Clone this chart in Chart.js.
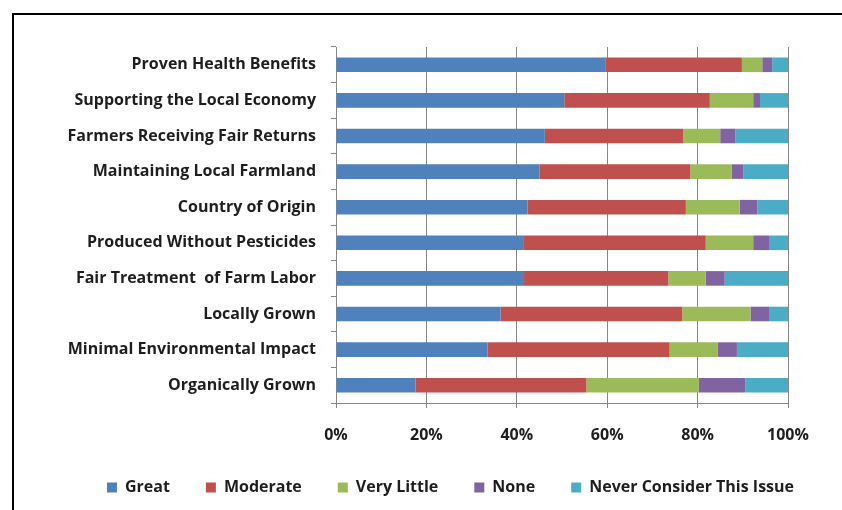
<!DOCTYPE html>
<html>
<head>
<meta charset="utf-8">
<script src="https://cdn.jsdelivr.net/npm/chart.js@4.4.1/dist/chart.umd.min.js"></script>
<style>
    html, body { margin: 0; padding: 0; background: #fff; overflow: hidden; }
    #wrap { position: relative; width: 842px; height: 510px; }
    #frame {
        position: absolute; left: 12px; top: 13px;
        width: 900px; height: 600px;
        border: 2px solid #000;
    }
    #survey-chart { position: absolute; left: 0; top: 0; }
</style>
</head>
<body>
<div id="wrap">
    <div id="frame"></div>
    <canvas id="survey-chart" width="842" height="510"></canvas>
</div>
<script>
const issues = [
    'Proven Health Benefits',
    'Supporting the Local Economy',
    'Farmers Receiving Fair Returns',
    'Maintaining Local Farmland',
    'Country of Origin',
    'Produced Without Pesticides',
    'Fair Treatment  of Farm Labor',
    'Locally Grown',
    'Minimal Environmental Impact',
    'Organically Grown'
];

// percent of respondents, top row first
const great      = [59.7, 50.5, 46.2, 45.0, 42.4, 41.4, 41.6, 36.4, 33.5, 17.6];
const moderate   = [30.1, 32.2, 30.6, 33.4, 35.0, 40.4, 31.9, 40.2, 40.3, 37.8];
const veryLittle = [ 4.5,  9.6,  8.2,  9.1, 11.9, 10.5,  8.3, 15.1, 10.6, 24.9];
const none       = [ 2.2,  1.5,  3.4,  2.6,  3.9,  3.5,  4.2,  4.1,  4.3, 10.3];
const neverConsider = [3.5, 6.2, 11.6, 9.9, 6.8, 4.2, 14.0, 4.2, 11.3, 9.4];

const percentTicks = [0, 20, 40, 60, 80, 100];

document.addEventListener('DOMContentLoaded', function () {
    const gridGray = '#878787';
    const padLeft = 59;

    Chart.defaults.font.family = '"Open Sans", sans-serif';
    Chart.defaults.font.size = 16;
    Chart.defaults.font.weight = 'bold';
    Chart.defaults.color = '#1e1e1e';

    function series(label, data, color) {
        return {
            label: label,
            data: data,
            backgroundColor: color,
            borderWidth: 0,
            categoryPercentage: 1,
            barPercentage: 0.41,
        };
    }

    const ctx = document.getElementById('survey-chart').getContext('2d');

    new Chart(ctx, {
        type: 'bar',
        data: {
            labels: issues,
            datasets: [
                series('Great', great, '#4F81BD'),
                series('Moderate', moderate, '#C0504D'),
                series('Very Little', veryLittle, '#9BBB59'),
                series('None', none, '#8064A2'),
                series('Never Consider This Issue', neverConsider, '#4BACC6'),
            ],
        },
        options: {
            indexAxis: 'y',
            responsive: false,
            animation: false,
            layout: {
                padding: { left: padLeft, top: 47, right: 0, bottom: 4.5 },
            },
            plugins: {
                tooltip: { enabled: false },
                legend: {
                    position: 'bottom',
                    align: 'center',
                    labels: {
                        boxWidth: 10,
                        boxHeight: 10,
                        padding: 36,
                        color: '#1e1e1e',
                    },
                },
            },
            scales: {
                x: {
                    stacked: true,
                    min: 0,
                    max: 100,
                    afterBuildTicks: function (scale) {
                        scale.ticks = percentTicks.map(v => ({ value: v }));
                    },
                    afterFit: function (scale) {
                        scale.height = 40.5;
                        scale.paddingRight = 54;
                    },
                    grid: {
                        color: gridGray,
                        lineWidth: 1,
                        tickLength: 5,
                    },
                    border: { color: gridGray, width: 1 },
                    ticks: {
                        padding: 18,
                        maxRotation: 0,
                        callback: function (value) {
                            return value + '%';
                        },
                    },
                },
                y: {
                    stacked: true,
                    afterFit: function (scale) {
                        scale.width = 336 - padLeft;
                    },
                    grid: {
                        offset: true,
                        drawOnChartArea: false,
                        color: gridGray,
                        tickLength: 5,
                    },
                    border: { color: gridGray, width: 1 },
                    ticks: {
                        padding: 15,
                        autoSkip: false,
                    },
                },
            },
        },
    });
});
</script>
</body>
</html>
